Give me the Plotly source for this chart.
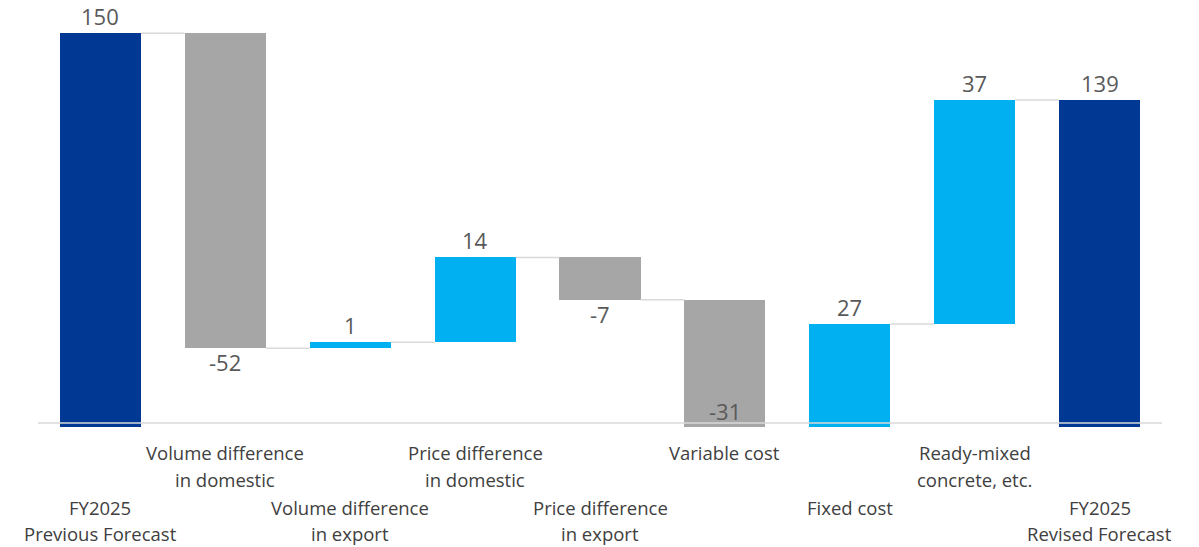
import plotly.graph_objects as go

# Operating profit bridge: previous forecast -> revised forecast
categories = [
    "FY2025<br>Previous Forecast",
    "Volume difference<br>in domestic",
    "Volume difference<br>in export",
    "Price difference<br>in domestic",
    "Price difference<br>in export",
    "Variable cost",
    "Fixed cost",
    "Ready-mixed<br>concrete, etc.",
    "FY2025<br>Revised Forecast",
]
values = [150, -52, 1, 14, -7, -31, 27, 37, 139]
kinds = ["total", "delta", "delta", "delta", "delta", "delta", "delta", "delta", "total"]

C_TOTAL = "#003893"
C_UP = "#00B0F0"
C_DOWN = "#A6A6A6"
C_LINE = "#D9D9D9"
C_VALUE = "#595959"
C_CAT = "#404040"

Y_MIN, Y_MAX = 85.0, 155.5
BAR_W = 0.65
VAL_SIZE = 22
CAT_SIZE = 18.5

# floating bar geometry from the running total
bases, heights, colors, ends = [], [], [], []
running = 0
for v, k in zip(values, kinds):
    if k == "total":
        bases.append(0)
        heights.append(v)
        colors.append(C_TOTAL)
        running = v
    else:
        start = running
        running = start + v
        bases.append(min(start, running))
        heights.append(abs(v))
        colors.append(C_UP if v >= 0 else C_DOWN)
    ends.append(running)

xs = list(range(len(values)))

fig = go.Figure()
fig.add_trace(go.Bar(
    x=xs, y=heights, base=bases, width=BAR_W,
    marker=dict(color=colors, line=dict(width=0)),
    hoverinfo="skip", showlegend=False,
))

# connectors between neighbouring bars at the running level
cx, cy = [], []
for i in range(len(values) - 1):
    cx += [i + BAR_W / 2, i + 1 - BAR_W / 2, None]
    cy += [ends[i], ends[i], None]
fig.add_trace(go.Scatter(
    x=cx, y=cy, mode="lines", line=dict(color=C_LINE, width=1.5),
    hoverinfo="skip", showlegend=False,
))

annotations = []
# value labels
for i, (v, k) in enumerate(zip(values, kinds)):
    top = bases[i] + heights[i]
    bottom = bases[i]
    if k == "total" or v >= 0:
        annotations.append(dict(x=i, y=top, text=str(v), showarrow=False,
                                yanchor="bottom", yshift=0,
                                font=dict(size=VAL_SIZE, color=C_VALUE)))
    elif bottom >= Y_MIN:
        annotations.append(dict(x=i, y=bottom, text=str(v), showarrow=False,
                                yanchor="top", yshift=3,
                                font=dict(size=VAL_SIZE, color=C_VALUE)))
    else:
        annotations.append(dict(x=i, y=Y_MIN, text=str(v), showarrow=False,
                                yanchor="bottom", yshift=-1,
                                font=dict(size=VAL_SIZE, color=C_VALUE)))

# category labels, staggered in two rows
for i, cat in enumerate(categories):
    lines = cat.split("<br>")
    rows = [452, 479] if i % 2 else [507, 533]
    for j, line in enumerate(lines):
        annotations.append(dict(x=i, y=0, yref="paper", text=line, showarrow=False,
                                yanchor="middle", yshift=427 - rows[j],
                                font=dict(size=CAT_SIZE, color=C_CAT)))

shapes = [
    dict(type="line", xref="paper", x0=0, x1=1, yref="y",
         y0=Y_MIN + 0.65, y1=Y_MIN + 0.65,
         line=dict(color=C_LINE, width=1.5), layer="above"),
]

fig.update_layout(
    width=1199, height=547,
    margin=dict(l=38, r=37, t=0, b=120),
    paper_bgcolor="white", plot_bgcolor="white",
    font=dict(family="Open Sans, Noto Sans, sans-serif"),
    xaxis=dict(range=[-0.5, len(values) - 0.5], showticklabels=False,
               showgrid=False, zeroline=False, showline=False, fixedrange=True),
    yaxis=dict(range=[Y_MIN, Y_MAX], showticklabels=False, showgrid=False,
               zeroline=False, showline=False, fixedrange=True),
    annotations=annotations,
    shapes=shapes,
    bargap=0,
)

fig.write_html("out.html", config={"displayModeBar": False})
